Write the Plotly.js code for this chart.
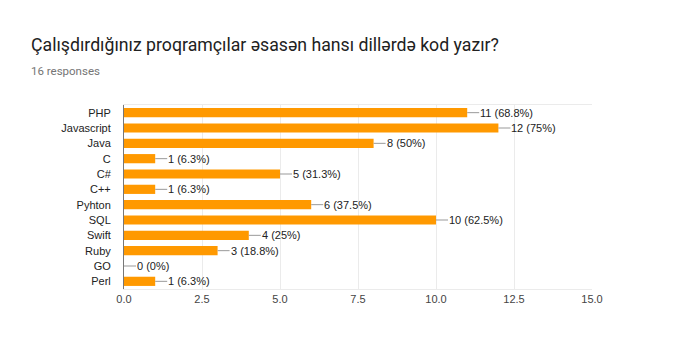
<!DOCTYPE html>
<html><head><meta charset="utf-8">
<script src="https://cdn.plot.ly/plotly-3.0.1.min.js"></script>
<style>html,body{margin:0;padding:0;background:#fff;}#chart{width:676px;height:349px;}</style>
</head><body><div id="chart"></div>
<script>
const categories = ["PHP","Javascript","Java","C","C#","C++","Pyhton","SQL","Swift","Ruby","GO","Perl"];
const counts = [11,12,8,1,5,1,6,10,4,3,0,1];
const percents = ["68.8%","75%","50%","6.3%","31.3%","6.3%","37.5%","62.5%","25%","18.8%","0%","6.3%"];
const xTicks = [0,2.5,5,7.5,10,12.5,15];
const xTickLabels = ["0.0","2.5","5.0","7.5","10.0","12.5","15.0"];

const annotations = categories.map((c,i)=>({
  x: counts[i], y: c, xref:'x', yref:'y',
  text: counts[i] + " (" + percents[i] + ")",
  showarrow: true, arrowhead: 0, arrowwidth: 1, arrowcolor: '#999',
  ax: 12, ay: 0, xanchor: 'left', standoff: 0, startstandoff: 0,
  font: {family: 'Liberation Sans, Arial, sans-serif', size: 11, color: '#222'},
  borderpad: 0
}));
annotations.push({
  xref:'paper', yref:'paper', x:(29-124)/468, y:1+(105-45)/184, xanchor:'left', yanchor:'middle',
  text:'Çalışdırdığınız proqramçılar əsasən hansı dillərdə kod yazır?', showarrow:false,
  font:{family:'Roboto, sans-serif', size:17.7, color:'#212121'}
});
annotations.push({
  xref:'paper', yref:'paper', x:(29-124)/468, y:1+(105-71)/184, xanchor:'left', yanchor:'middle',
  text:'16 responses', showarrow:false,
  font:{family:'Roboto, sans-serif', size:11.5, color:'#757575'}
});

const data = [{
  type:'bar', orientation:'h', y: categories, x: counts,
  marker:{color:'#ff9900'}, hoverinfo:'none'
}];

const layout = {
  width:676, height:349,
  margin:{l:124, r:84, t:105, b:60},
  paper_bgcolor:'#fff', plot_bgcolor:'#fff',
  bargap: 0.4,
  showlegend:false,
  xaxis:{range:[0,15], tickvals:xTicks, ticktext:xTickLabels, showgrid:true, gridcolor:'#ebebeb',
    zeroline:false, showline:true, linecolor:'#ebebeb', mirror:true, ticks:'',
    tickfont:{family:'Liberation Sans, Arial, sans-serif', size:11, color:'#444'}},
  yaxis:{autorange:'reversed', showgrid:false, zeroline:false, showline:true, linecolor:'#777', linewidth:1,
    ticks:'', ticklabelstandoff: 10,
    tickfont:{family:'Liberation Sans, Arial, sans-serif', size:11, color:'#222'}},
  annotations: annotations
};
Plotly.newPlot('chart', data, layout, {displayModeBar:false, staticPlot:true});
</script></body></html>
